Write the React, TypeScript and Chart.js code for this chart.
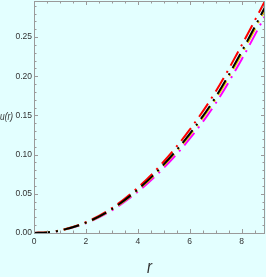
import React, { useEffect, useRef } from "react";
import { Chart, registerables } from "chart.js";

Chart.register(...registerables);

const rValues = [0, 0.5, 1, 2, 3, 4, 5, 6, 7, 8, 8.9];
const uBlack = [0, 0.0008, 0.0032, 0.0132, 0.0305, 0.0555, 0.0875, 0.1265, 0.1735, 0.2315, 0.288];
const uRed = [0, 0.0008, 0.0034, 0.0138, 0.0318, 0.0579, 0.0912, 0.1318, 0.1805, 0.2395, 0.296];
const uYellow = [0, 0.0008, 0.0031, 0.0129, 0.0300, 0.0546, 0.0862, 0.1247, 0.171, 0.2285, 0.2845];
const uMagenta = [0, 0.0007, 0.003, 0.0125, 0.029, 0.0527, 0.0831, 0.1203, 0.1655, 0.2215, 0.277];

const xMin = 0;
const xMax = 8.9;
const yMin = 0;
const yMax = 0.296;
const xMajorStep = 2;
const xMinorStep = 0.5;
const yMajorStep = 0.05;
const yMinorStep = 0.01;

const BG = "#E3FFFF";
const FRAME = "#9a9a9a";
const LABEL_FONT = "'Liberation Sans Narrow', 'Liberation Sans', Arial, sans-serif";

const toPts = (ys: number[]) => rValues.map((x, i) => ({ x, y: ys[i] }));

const framePlugin = {
  id: "frameTicks",
  afterDraw(chart: any) {
    const { ctx, chartArea } = chart;
    const xs = chart.scales.x;
    const ys = chart.scales.y;
    const { left, right, top, bottom } = chartArea;
    ctx.save();
    ctx.strokeStyle = FRAME;
    ctx.lineWidth = 1;
    ctx.strokeRect(left + 0.5, top + 0.5, right - left - 1, bottom - top);
    ctx.beginPath();
    for (let v = xMin; v <= xMax + 1e-9; v += xMinorStep) {
      const isMajor = Math.abs(v / xMajorStep - Math.round(v / xMajorStep)) < 1e-6;
      const len = isMajor ? 4 : 2.5;
      const px = Math.round(xs.getPixelForValue(v)) + 0.5;
      ctx.moveTo(px, bottom);
      ctx.lineTo(px, bottom - len);
      ctx.moveTo(px, top);
      ctx.lineTo(px, top + len);
    }
    for (let i = 0; i * yMinorStep <= yMax + 1e-9; i++) {
      const v = i * yMinorStep;
      const isMajor = i % Math.round(yMajorStep / yMinorStep) === 0;
      const len = isMajor ? 4 : 2.5;
      const py = Math.round(ys.getPixelForValue(v)) + 0.5;
      ctx.moveTo(left, py);
      ctx.lineTo(left + len, py);
      ctx.moveTo(right, py);
      ctx.lineTo(right - len, py);
    }
    ctx.stroke();

    ctx.fillStyle = "#333";
    ctx.font = "italic 11px 'Liberation Sans', Arial, sans-serif";
    ctx.textAlign = "left";
    ctx.textBaseline = "middle";
    ctx.fillText("u(r)", 0, (top + bottom) / 2, 13);
    ctx.font = "italic 18px 'Liberation Sans', Arial, sans-serif";
    ctx.textAlign = "center";
    ctx.fillText("r", (left + right) / 2, 268, 5);
    ctx.restore();
  },
};

export default function App() {
  const ref = useRef<HTMLCanvasElement | null>(null);
  useEffect(() => {
    if (!ref.current) return;
    const dash = [16, 6, 2, 6];
    const mk = (label: string, data: number[], color: string) => ({
      label,
      data: toPts(data),
      borderColor: color,
      backgroundColor: color,
      borderWidth: 2,
      borderDash: dash,
      pointRadius: 0,
      fill: false,
      cubicInterpolationMode: "monotone" as const,
    });
    const chart = new Chart(ref.current, {
      type: "line",
      data: {
        datasets: [
          mk("black", uBlack, "#000000"),
          mk("yellow", uYellow, "#E8C400"),
          mk("red", uRed, "#FF0000"),
          mk("magenta", uMagenta, "#FF00FF"),
        ],
      },
      options: {
        animation: false,
        responsive: false,
        maintainAspectRatio: false,
        layout: { padding: { top: 1, right: 1, left: 0, bottom: 0 } },
        plugins: { legend: { display: false }, tooltip: { enabled: false } },
        scales: {
          x: {
            type: "linear",
            min: xMin,
            max: xMax,
            grid: { display: false, drawTicks: false },
            border: { display: false },
            ticks: {
              stepSize: xMajorStep,
              includeBounds: false,
              padding: 4,
              color: "#333",
              font: { family: LABEL_FONT, size: 8.5 },
              maxRotation: 0,
              callback: (v: any) => String(v),
            },
            afterFit: (s: any) => {
              s.height = 44;
              s.paddingLeft = 0;
              s.paddingRight = 0;
            },
          },
          y: {
            type: "linear",
            min: yMin,
            max: yMax,
            grid: { display: false, drawTicks: false },
            border: { display: false },
            ticks: {
              stepSize: yMajorStep,
              includeBounds: false,
              padding: 2,
              color: "#333",
              font: { family: LABEL_FONT, size: 8.5 },
              callback: (v: any) => Number(v).toFixed(2),
            },
            afterFit: (s: any) => {
              s.width = 34;
              s.paddingTop = 0;
              s.paddingBottom = 0;
            },
          },
        },
      },
      plugins: [framePlugin],
    });
    return () => chart.destroy();
  }, []);
  return (
    <div style={{ position: "absolute", left: 0, top: 0, width: 266, height: 277, background: BG }}>
      <canvas ref={ref} width={266} height={277} style={{ display: "block" }} />
    </div>
  );
}
